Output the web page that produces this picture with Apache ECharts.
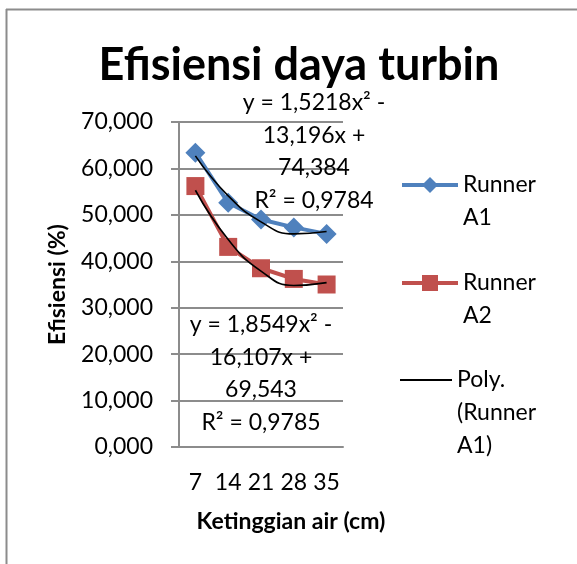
<!DOCTYPE html>
<html>
<head>
<meta charset="utf-8">
<script src="https://cdn.jsdelivr.net/npm/echarts@6/dist/echarts.min.js"></script>
<style>
  html, body { margin: 0; padding: 0; background: #fff; }
  #chart { width: 577px; height: 564px; }
</style>
</head>
<body>
<div id="chart"></div>
<script>
// ketinggian air (cm)
const categories = ['7', '14', '21', '28', '35']
// efisiensi (%)
const runnerA1 = [63.4, 52.6, 49.0, 47.3, 45.9]
const runnerA2 = [56.2, 43.1, 38.5, 36.2, 35.0]
// trendline poly. orde 2
const polyA1 = [62.7, 54.1, 48.5, 45.9, 46.4]
const polyA2 = [55.3, 44.7, 37.9, 34.8, 35.4]
const eqA1 = ['y = 1,5218x² -', '13,196x +', '74,384', 'R² = 0,9784']
const eqA2 = ['y = 1,8549x² -', '16,107x +', '69,543', 'R² = 0,9785']

const FONT = 'Lato'
const FS = 23
const chart = echarts.init(document.getElementById('chart'))

function eqText (lines, cx, top) {
  return lines.map((t, i) => ({
    type: 'text',
    x: cx,
    y: top + i * 32.5,
    z: 10,
    style: {
      text: t,
      fill: '#000',
      font: FS + 'px ' + FONT,
      align: 'center',
      verticalAlign: 'middle'
    }
  }))
}

// teks legenda dipusatkan di ikon, jadi baris kosong di atas supaya baris pertama sejajar ikon
function legendOne (item, top, fmt, extra) {
  return Object.assign({
    data: [item],
    left: 400,
    top: top,
    orient: 'vertical',
    padding: 0,
    itemWidth: 56,
    itemHeight: 20,
    formatter: fmt,
    lineStyle: { width: 4 },
    textStyle: {
      fontFamily: FONT,
      fontSize: FS,
      lineHeight: 33,
      color: '#000'
    }
  }, extra || {})
}

const option = {
  backgroundColor: '#fff',
  animation: false,
  title: {
    text: 'Efisiensi daya turbin',
    left: 294,
    top: 60,
    textAlign: 'center',
    textVerticalAlign: 'middle',
    textStyle: { fontFamily: FONT, fontWeight: 'bold', fontSize: 45, color: '#000' }
  },
  legend: [
    legendOne('Runner A1', 135.5, n => '\n' + n.replace(' ', '\n')),
    legendOne('Runner A2', 233.5, n => '\n' + n.replace(' ', '\n')),
    legendOne({ name: 'Poly. (Runner A1)', icon: 'rect', itemStyle: { color: '#000' } }, 297.5,
      () => '\n\nPoly.\n(Runner\nA1)', { itemWidth: 52, itemHeight: 2 })
  ],
  grid: { left: 179, top: 122, right: 234, bottom: 117 },
  xAxis: {
    type: 'category',
    data: categories,
    boundaryGap: true,
    name: 'Ketinggian air (cm)',
    nameLocation: 'middle',
    nameGap: 63,
    nameTextStyle: { fontFamily: FONT, fontWeight: 'bold', fontSize: FS, color: '#000', padding: [0, 0, 0, 60] },
    axisLine: { show: true, lineStyle: { color: '#8c8c8c', width: 2 } },
    axisTick: { show: false },
    axisLabel: { fontFamily: FONT, fontSize: FS, color: '#000', margin: 24, interval: 0 }
  },
  yAxis: {
    type: 'value',
    min: 0,
    max: 70,
    interval: 10,
    name: 'Efisiensi (%)',
    nameLocation: 'middle',
    nameGap: 110,
    nameRotate: 90,
    nameTextStyle: { fontFamily: FONT, fontWeight: 'bold', fontSize: FS, color: '#000' },
    axisLine: { show: true, lineStyle: { color: '#8c8c8c', width: 2 } },
    axisTick: { show: true, length: 8, lineStyle: { color: '#8c8c8c', width: 2 } },
    splitLine: { show: true, lineStyle: { color: '#8c8c8c', width: 2 } },
    axisLabel: {
      fontFamily: FONT, fontSize: FS, color: '#000', margin: 26,
      formatter: v => v + ',000'
    }
  },
  series: [
    {
      name: 'Runner A1',
      type: 'line',
      data: runnerA1,
      symbol: 'diamond',
      symbolSize: 20,
      itemStyle: { color: '#4F81BD' },
      lineStyle: { color: '#4F81BD', width: 4 },
      z: 2
    },
    {
      name: 'Runner A2',
      type: 'line',
      data: runnerA2,
      symbol: 'rect',
      symbolSize: 18,
      itemStyle: { color: '#C0504D' },
      lineStyle: { color: '#C0504D', width: 4 },
      z: 2
    },
    {
      name: 'Poly. (Runner A1)',
      type: 'line',
      data: polyA1,
      smooth: true,
      symbol: 'none',
      itemStyle: { color: '#000' },
      lineStyle: { color: '#000', width: 1.6 },
      z: 3
    },
    {
      name: 'Poly. (Runner A2)',
      type: 'line',
      data: polyA2,
      smooth: true,
      symbol: 'none',
      itemStyle: { color: '#000' },
      lineStyle: { color: '#000', width: 1.6 },
      z: 3
    }
  ],
  graphic: [
    // border luar
    { type: 'line', shape: { x1: 6, y1: 9.5, x2: 577, y2: 9.5 }, style: { stroke: '#8c8c8c', lineWidth: 2 } },
    { type: 'line', shape: { x1: 6.5, y1: 9, x2: 6.5, y2: 564 }, style: { stroke: '#8c8c8c', lineWidth: 2 } },
    ...eqText(eqA1, 314, 103),
    ...eqText(eqA2, 261, 325)
  ]
}
chart.setOption(option)
</script>
</body>
</html>
